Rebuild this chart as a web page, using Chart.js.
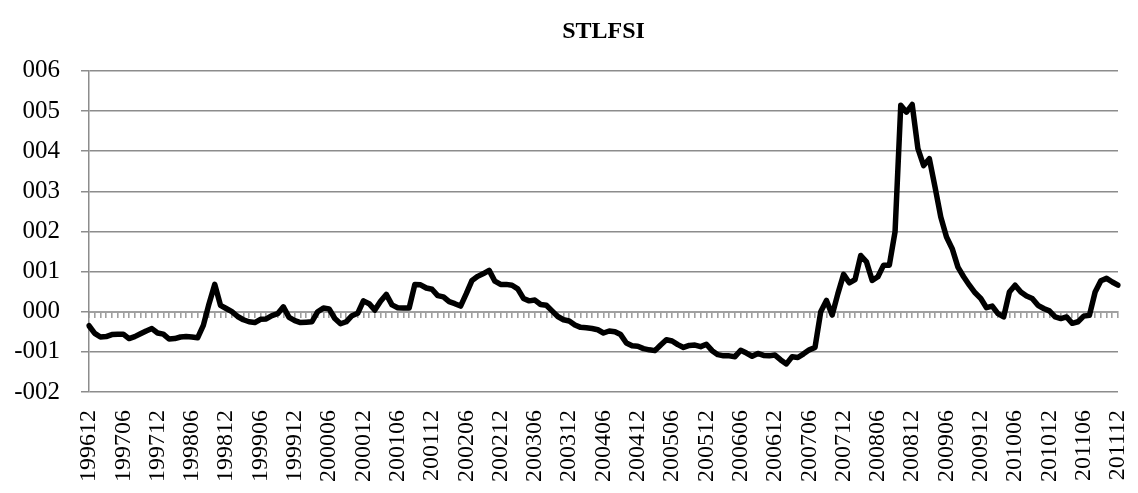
<!DOCTYPE html>
<html>
<head>
<meta charset="utf-8">
<script src="https://cdn.jsdelivr.net/npm/chart.js@4/dist/chart.umd.min.js"></script>
<style>
    body { margin: 0; background: #fff; }
    #wrap { width: 1138px; height: 493px; }
</style>
</head>
<body>
<div id="wrap"><canvas id="stlfsiChart" width="1138" height="493"></canvas></div>
<script>
// month labels, 199612 .. 201112
const months = [
    '199612',
    '199701','199702','199703','199704','199705','199706','199707','199708','199709','199710','199711','199712',
    '199801','199802','199803','199804','199805','199806','199807','199808','199809','199810','199811','199812',
    '199901','199902','199903','199904','199905','199906','199907','199908','199909','199910','199911','199912',
    '200001','200002','200003','200004','200005','200006','200007','200008','200009','200010','200011','200012',
    '200101','200102','200103','200104','200105','200106','200107','200108','200109','200110','200111','200112',
    '200201','200202','200203','200204','200205','200206','200207','200208','200209','200210','200211','200212',
    '200301','200302','200303','200304','200305','200306','200307','200308','200309','200310','200311','200312',
    '200401','200402','200403','200404','200405','200406','200407','200408','200409','200410','200411','200412',
    '200501','200502','200503','200504','200505','200506','200507','200508','200509','200510','200511','200512',
    '200601','200602','200603','200604','200605','200606','200607','200608','200609','200610','200611','200612',
    '200701','200702','200703','200704','200705','200706','200707','200708','200709','200710','200711','200712',
    '200801','200802','200803','200804','200805','200806','200807','200808','200809','200810','200811','200812',
    '200901','200902','200903','200904','200905','200906','200907','200908','200909','200910','200911','200912',
    '201001','201002','201003','201004','201005','201006','201007','201008','201009','201010','201011','201012',
    '201101','201102','201103','201104','201105','201106','201107','201108','201109','201110','201111','201112'
];

// STLFSI values
const stlfsi = [
    -0.35,
    -0.54, -0.63, -0.62, -0.57, -0.56, -0.56, -0.67, -0.62, -0.55, -0.48, -0.42, -0.53,
    -0.56, -0.68, -0.67, -0.63, -0.62, -0.63, -0.65, -0.34, 0.20, 0.68, 0.16, 0.08,
    0.00, -0.12, -0.20, -0.25, -0.27, -0.19, -0.18, -0.10, -0.05, 0.12, -0.14, -0.22,
    -0.27, -0.26, -0.25, 0.00, 0.09, 0.07, -0.17, -0.30, -0.25, -0.10, -0.04, 0.27,
    0.20, 0.04, 0.26, 0.43, 0.17, 0.10, 0.09, 0.09, 0.68, 0.67, 0.59, 0.56,
    0.40, 0.37, 0.25, 0.20, 0.14, 0.45, 0.78, 0.88, 0.95, 1.03, 0.76, 0.68,
    0.68, 0.66, 0.57, 0.33, 0.27, 0.29, 0.18, 0.16, 0.02, -0.12, -0.20, -0.23,
    -0.33, -0.39, -0.40, -0.42, -0.45, -0.53, -0.48, -0.50, -0.57, -0.78, -0.85, -0.86,
    -0.92, -0.95, -0.97, -0.83, -0.70, -0.73, -0.82, -0.89, -0.84, -0.83, -0.87, -0.81,
    -0.97, -1.07, -1.10, -1.10, -1.12, -0.96, -1.03, -1.11, -1.04, -1.09, -1.10, -1.08,
    -1.20, -1.30, -1.12, -1.14, -1.05, -0.95, -0.89, 0.00, 0.28, -0.08, 0.45, 0.93,
    0.72, 0.80, 1.40, 1.24, 0.78, 0.87, 1.16, 1.16, 1.99, 5.14, 4.97, 5.16,
    4.06, 3.64, 3.81, 3.10, 2.36, 1.86, 1.57, 1.11, 0.87, 0.66, 0.47, 0.33,
    0.10, 0.14, -0.05, -0.13, 0.49, 0.66, 0.49, 0.39, 0.33, 0.16, 0.08, 0.02,
    -0.13, -0.17, -0.13, -0.29, -0.25, -0.11, -0.09, 0.49, 0.77, 0.83, 0.74, 0.66
];

// y axis range and step
const yMin = -2;
const yMax = 6;
const yStep = 1;
const labelEvery = 6;

const serif = '"Liberation Serif", "Times New Roman", serif';
const gridGray = '#8c8c8c';

// y labels look like 006, 000, -001
function padTick(value) {
    const s = String(Math.abs(Math.round(value))).padStart(3, '0');
    return value < 0 ? '-' + s : s;
}

const ctx = document.getElementById('stlfsiChart').getContext('2d');
new Chart(ctx, {
    type: 'line',
    data: {
        labels: months,
        datasets: [{
            label: 'STLFSI',
            data: stlfsi,
            borderColor: '#000',
            borderWidth: 5.5,
            borderJoinStyle: 'round',
            borderCapStyle: 'round',
            pointRadius: 0,
            tension: 0,
            xAxisID: 'x',
            yAxisID: 'y'
        }]
    },
    options: {
        responsive: false,
        animation: false,
        layout: {
            padding: { left: 0, right: 20, top: 0, bottom: 0 }
        },
        plugins: {
            legend: { display: false },
            tooltip: { enabled: false },
            title: {
                display: true,
                fullSize: false,
                text: 'STLFSI',
                color: '#000',
                font: { family: serif, size: 24, weight: 'bold' },
                padding: { top: 17, bottom: 25 }
            }
        },
        scales: {
            x: {
                type: 'category',
                position: 'bottom',
                offset: false,
                afterFit: function(scale) {
                    scale.height = 101;
                    scale.paddingLeft = 0;
                    scale.paddingRight = 0;
                },
                grid: { display: false },
                border: { display: false },
                ticks: {
                    autoSkip: false,
                    maxRotation: 90,
                    minRotation: 90,
                    padding: 10,
                    color: '#000',
                    font: { family: serif, size: 24 },
                    callback: function(value, index) {
                        return index % labelEvery === 0 ? this.getLabelForValue(value) : '';
                    }
                }
            },
            // axis line crossing at zero with a tick per month
            x2: {
                type: 'category',
                position: { y: 0 },
                offset: false,
                afterFit: function(scale) {
                    scale.height = 0;
                    scale.paddingLeft = 0;
                    scale.paddingRight = 0;
                },
                grid: {
                    drawOnChartArea: false,
                    drawTicks: true,
                    tickLength: 5,
                    color: '#a0a0a0',
                    lineWidth: 1.6
                },
                border: { display: true, color: '#a0a0a0', width: 2 },
                ticks: { display: false }
            },
            y: {
                position: 'left',
                min: yMin,
                max: yMax,
                afterFit: function(scale) {
                    scale.width = 89;
                },
                grid: {
                    color: gridGray,
                    lineWidth: 1.5,
                    tickLength: 8
                },
                border: { display: true, color: gridGray, width: 1.5 },
                ticks: {
                    stepSize: yStep,
                    padding: 21,
                    color: '#000',
                    font: { family: serif, size: 25 },
                    callback: function(value) {
                        return padTick(value);
                    }
                }
            }
        }
    }
});
</script>
</body>
</html>
